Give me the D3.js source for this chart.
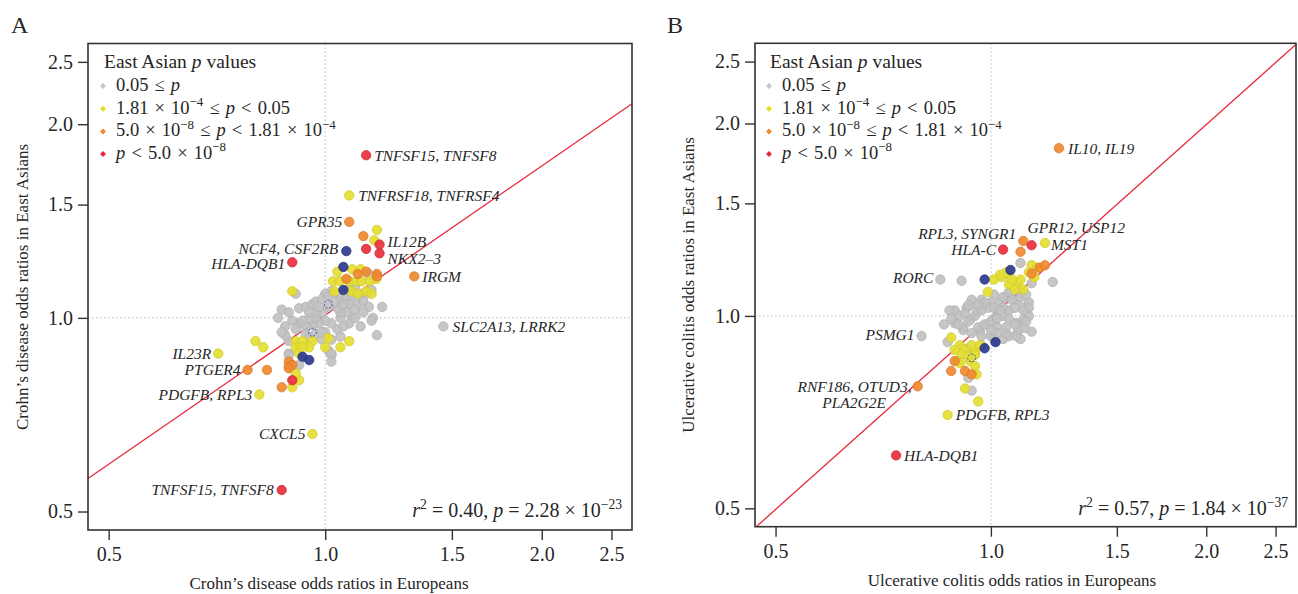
<!DOCTYPE html>
<html><head><meta charset="utf-8">
<script src="https://cdn.jsdelivr.net/npm/d3@7"></script>
<style>
body{margin:0;background:#fff}
svg{display:block}
text{font-family:"Liberation Serif","DejaVu Serif",serif;fill:#262626}
</style>
</head><body>
<svg id="c" width="1298" height="594"></svg>
<script>
// ---------------- DATA ----------------
const tickValues = [0.5, 1.0, 1.5, 2.0, 2.5];
const axisDomain = [0.468, 2.67];
const categoryOrder = ["g", "y", "o", "r", "b", "bd"];

// Panel A: Crohn's disease  [European OR, East Asian OR, category]
const labeledA = [
  [1.14, 1.79, "r", "TNFSF15, TNFSF8"],
  [1.08, 1.55, "y", "TNFRSF18, TNFRSF4"],
  [1.08, 1.41, "o", "GPR35"],
  [1.07, 1.27, "b", "NCF4, CSF2RB"],
  [0.90, 1.22, "r", "HLA-DQB1"],
  [1.19, 1.30, "r", "IL12B"],
  [1.19, 1.26, "r", "NKX2\u20133"],
  [1.33, 1.16, "o", "IRGM"],
  [1.46, 0.97, "g", "SLC2A13, LRRK2"],
  [0.71, 0.88, "y", "IL23R"],
  [0.78, 0.83, "o", "PTGER4"],
  [0.81, 0.76, "y", "PDGFB, RPL3"],
  [0.96, 0.66, "y", "CXCL5"],
  [0.87, 0.54, "r", "TNFSF15, TNFSF8"]
];
const grayA = [
  [1.15,1.17],[0.91,1.09],[1.02,1.10],[1.00,1.09],[0.87,1.03],[0.89,1.02],[0.92,1.035],[0.94,1.04],[0.96,1.05],[0.97,1.06],
  [0.99,1.07],[1.01,1.08],[1.04,1.09],[1.05,1.07],[1.07,1.07],[1.09,1.08],[1.12,1.09],[1.14,1.09],[1.16,1.105],[1.08,1.05],
  [1.11,1.05],[1.13,1.06],[1.15,1.04],[1.20,1.04],[1.165,1.00],[1.16,0.99],[1.12,0.97],[1.18,0.94],[1.09,1.00],[1.07,1.02],
  [1.05,1.00],[1.02,0.98],[1.00,0.99],[0.98,0.98],[0.96,0.975],[0.94,0.97],[0.92,0.98],[0.90,0.99],[0.88,0.97],[0.91,0.96],
  [0.94,0.945],[0.97,0.945],[1.00,0.95],[1.04,0.96],[1.05,0.935],[0.99,0.925],[1.02,0.925],[1.01,0.89],[1.02,0.875],[0.95,0.93],
  [0.92,0.90],[0.89,0.92],[0.88,0.94],[0.86,1.00],[0.87,0.95],[1.05,1.02],[0.99,1.02],[0.97,1.00],[1.01,1.04],[1.04,1.035],
  [1.02,0.88],[1.02,0.855],[0.89,0.88],[0.92,0.845],[0.89,0.875],[1.03,1.06],[1.06,1.05],[1.10,1.03],[1.13,1.02],[0.95,1.00],
  [0.93,0.99],[0.99,0.95],[1.08,0.98],[1.10,1.00],[0.97,1.02],[1.06,0.97],[1.10,1.12],[1.08,1.11],[0.98,1.04],[0.95,1.02]
];
const yellowA = [
  [1.18,1.37],[1.17,1.32],[1.04,1.18],[1.09,1.19],[1.12,1.19],[1.025,1.14],[1.047,1.14],[1.081,1.14],[1.105,1.14],[1.123,1.14],
  [1.153,1.14],[1.178,1.15],[1.03,1.10],[1.087,1.10],[1.11,1.09],[1.14,1.10],[1.16,1.09],[0.90,1.10],
  [0.80,0.92],[0.82,0.90],[0.91,0.92],[0.93,0.92],[0.96,0.92],[0.95,0.90],[0.91,0.90],[0.92,0.88],[1.01,0.93],[1.00,0.90],
  [1.05,0.90],[1.08,0.92],[0.93,0.90],[0.92,0.80],[0.90,0.78],[0.91,0.82]
];
const orangeA = [[1.13,1.34],[1.11,1.17],[1.14,1.18],[1.18,1.17],[1.18,1.16],[1.07,1.15],[0.89,0.855],[0.89,0.84],[0.90,0.845],[0.83,0.83],[0.87,0.78],[0.89,0.835]];
const redA = [[1.14,1.28],[0.90,0.80]];
const blueA = [[1.06,1.20],[1.06,1.105],[0.93,0.87],[0.95,0.86]];
const blueOpenA = [[1.01,1.05],[0.96,0.95]];
const fitA = {slope: 0.77, intercept: 0.01};            // ln(EAS) = intercept + slope * ln(EUR)
const statA = {r2: "0.40", p: "2.28", exp: "\u221223"};

// Panel B: Ulcerative colitis
const labeledB = [
  [1.245, 1.83, "o", "IL10, IL19"],
  [1.11, 1.31, "o", "RPL3, SYNGR1"],
  [1.14, 1.29, "r", "GPR12, USP12"],
  [1.19, 1.30, "y", "MST1"],
  [1.04, 1.27, "r", "HLA-C"],
  [0.85, 1.14, "g", "RORC"],
  [0.80, 0.93, "g", "PSMG1"],
  [0.79, 0.776, "o", "RNF186, OTUD3,|PLA2G2E"],
  [0.87, 0.70, "y", "PDGFB, RPL3"],
  [0.737, 0.605, "r", "HLA-DQB1"]
];
const grayB = [
  [0.91,1.135],[1.10,1.21],[1.22,1.13],[1.14,1.125],[1.01,1.08],[1.14,0.945],[0.87,0.91],[0.93,0.80],[0.94,0.764],
  [0.89,1.02],[0.86,0.97],[0.915,0.95],[1.00,1.05],[1.03,1.05],[1.13,1.05],[1.13,1.00],[1.09,0.945],[1.10,0.92],[1.06,0.93],[1.04,0.92],
  [0.875,1.02],[0.89,0.974],[0.925,1.03],[0.97,1.06],[1.05,1.07],[1.09,1.06],[1.11,1.03],[1.13,1.03],[1.085,0.93],[1.05,0.94],
  [1.02,0.96],[0.99,0.97],[0.95,1.00],[0.935,0.986],[0.915,0.96],[0.905,1.00],[0.965,0.945],[1.00,0.93],[1.01,0.99],[1.04,1.00],
  [1.06,1.02],[1.085,0.975],[1.04,1.03],[1.02,1.02],[0.99,1.03],[0.955,1.02],[0.94,1.06],[1.11,0.985],[1.115,0.957],[1.02,0.94],
  [0.97,1.02],[1.01,1.03],[1.03,1.02],[1.07,1.06],[1.08,1.03],[1.10,1.07],[1.12,1.08],[0.93,0.98],[0.96,0.96],[0.98,0.97],
  [1.00,0.98],[1.02,0.99],[1.06,0.99],[1.08,0.97],[0.92,1.01],[0.94,0.94],[0.97,0.93],[1.00,0.95],[1.05,0.96],[0.90,0.97],
  [0.98,1.05],[1.04,1.07],[1.06,1.09],[1.09,1.10],[0.96,1.04],[1.11,1.02],[1.12,0.98],[0.93,1.04],[0.88,0.99],[1.01,0.92],
  [0.97,0.90],[0.95,0.87],[0.93,0.89]
];
const yellowB = [
  [1.01,1.14],[1.035,1.15],[1.06,1.16],[1.14,1.20],[1.16,1.19],[1.13,1.17],[1.15,1.15],[1.06,1.12],[1.09,1.125],[1.11,1.10],
  [1.10,1.14],[1.07,1.14],[1.08,1.10],[1.05,1.17],[1.03,1.16],[0.99,1.09],
  [0.88,0.925],[0.905,0.90],[0.92,0.885],[0.94,0.90],[0.91,0.87],[0.935,0.85],[0.95,0.88],[0.90,0.85],[0.95,0.835],[0.93,0.864],
  [0.95,0.87],[0.905,0.844],[0.89,0.885],[0.965,0.90],[0.955,0.81],[0.92,0.77],[0.96,0.735]
];
const orangeB = [[1.10,1.26],[1.17,1.19],[1.14,1.165],[1.19,1.20],[0.89,0.85],[0.88,0.82],[0.92,0.82],[0.94,0.81]];
const redB = [];
const blueB = [[0.98,1.14],[1.065,1.18],[0.98,0.89],[1.015,0.91]];
const blueOpenB = [[0.94,0.86]];
const fitB = {slope: 1.0, intercept: -0.004};
const statB = {r2: "0.57", p: "1.84", exp: "\u221237"};

const legendTitle = [["East Asian ", ""], ["p", "i"], [" values", ""]];
const legendItems = [
  {cat: "g", segs: [["0.05 \u2264 ", ""], ["p", "i"]]},
  {cat: "y", segs: [["1.81 \u00d7 10", ""], ["\u22124", "s"], [" \u2264 ", ""], ["p", "i"], [" < 0.05", ""]]},
  {cat: "o", segs: [["5.0 \u00d7 10", ""], ["\u22128", "s"], [" \u2264 ", ""], ["p", "i"], [" < 1.81 \u00d7 10", ""], ["\u22124", "s"]]},
  {cat: "r", segs: [["p", "i"], [" < 5.0 \u00d7 10", ""], ["\u22128", "s"]]}
];

// ---------------- STYLE / LAYOUT ----------------
const fills = {g: "#c2c2c2", y: "#e4de33", o: "#ef8a30", r: "#e8323e", b: "#2e3b8f", bd: "none"};
const legendFills = {g: "#c8c8c8", y: "#e6df20", o: "#f08a2a", r: "#e8283a"};

const panels = [
  {
    letter: "A", box: {x0: 88, x1: 632, y0: 43.5, y1: 530},
    letterPos: [11, 33], legendPos: [104, 68], statPos: [622, 517],
    xTitle: "Crohn\u2019s disease odds ratios in Europeans", xTitlePos: [329, 589],
    yTitle: "Crohn\u2019s disease odds ratios in East Asians", yTitlePos: [28, 287],
    labeled: labeledA, gray: grayA, yellow: yellowA, orange: orangeA, red: redA, blue: blueA, blueOpen: blueOpenA,
    fit: fitA, stat: statA,
    labelStyle: [[8,0,"start"],[9,0,"start"],[-7,0,"end"],[-8,-3,"end"],[-7,1,"end"],[8,-3,"start"],[8,5,"start"],[8,0,"start"],[9,0,"start"],[-7,0,"end"],[-7,0,"end"],[-7,0,"end"],[-7,0,"end"],[-8,0,"end"]]
  },
  {
    letter: "B", box: {x0: 755, x1: 1296, y0: 43.3, y1: 526.7},
    letterPos: [667, 33], legendPos: [770, 68], statPos: [1288, 515],
    xTitle: "Ulcerative colitis odds ratios in Europeans", xTitlePos: [1012, 586],
    yTitle: "Ulcerative colitis odds ratios in East Asians", yTitlePos: [694, 285],
    labeled: labeledB, gray: grayB, yellow: yellowB, orange: orangeB, red: redB, blue: blueB, blueOpen: blueOpenB,
    fit: fitB, stat: statB,
    labelStyle: [[9,0,"start"],[-7,-7,"end"],[-4,-18,"start"],[6,1,"start"],[-7,0,"end"],[-7,-2,"end"],[-7,-1,"end"],[-6,0,"end"],[8,0,"start"],[8,0,"start"]]
  }
];

const svg = d3.select("#c");

function addRich(sel, segs, fs, supScale) {
  const sc = supScale || 0.68;
  let prevSup = false;
  segs.forEach(([t, st]) => {
    const sup = st.includes("s");
    const ts = sel.append("tspan").text(t);
    if (st.includes("i")) ts.attr("font-style", "italic");
    if (sup && !prevSup) ts.attr("dy", -fs * 0.42);
    if (!sup && prevSup) ts.attr("dy", fs * 0.42);
    if (sup) ts.attr("font-size", fs * sc);
    prevSup = sup;
  });
}

panels.forEach((P, idx) => {
  const g = svg.append("g");
  const B = P.box;
  const x = d3.scaleLog().domain(axisDomain).range([B.x0, B.x1]);
  const y = d3.scaleLog().domain(axisDomain).range([B.y1, B.y0]);

  const clipId = "clip" + idx;
  g.append("clipPath").attr("id", clipId).append("rect")
    .attr("x", B.x0).attr("y", B.y0).attr("width", B.x1 - B.x0).attr("height", B.y1 - B.y0);
  const plot = g.append("g").attr("clip-path", `url(#${clipId})`);

  // reference dotted lines at OR = 1
  plot.append("line").attr("x1", x(1)).attr("x2", x(1)).attr("y1", B.y0).attr("y2", B.y1)
    .attr("stroke", "#c4c4c4").attr("stroke-width", 1.2).attr("stroke-dasharray", "1.5,2.5");
  plot.append("line").attr("y1", y(1)).attr("y2", y(1)).attr("x1", B.x0).attr("x2", B.x1)
    .attr("stroke", "#c4c4c4").attr("stroke-width", 1.2).attr("stroke-dasharray", "1.5,2.5");

  // regression line
  const fx = d => Math.exp(P.fit.intercept + P.fit.slope * Math.log(d));
  const xs = [axisDomain[0] * 0.8, axisDomain[1] * 1.25];
  plot.append("line")
    .attr("x1", x(xs[0])).attr("y1", y(fx(xs[0])))
    .attr("x2", x(xs[1])).attr("y2", y(fx(xs[1])))
    .attr("stroke", "#e8283a").attr("stroke-width", 1.3);

  // points
  const pts = [];
  P.gray.forEach(d => pts.push({x: d[0], y: d[1], c: "g"}));
  P.yellow.forEach(d => pts.push({x: d[0], y: d[1], c: "y"}));
  P.orange.forEach(d => pts.push({x: d[0], y: d[1], c: "o"}));
  P.red.forEach(d => pts.push({x: d[0], y: d[1], c: "r"}));
  P.blue.forEach(d => pts.push({x: d[0], y: d[1], c: "b"}));
  P.labeled.forEach(d => pts.push({x: d[0], y: d[1], c: d[2]}));
  P.blueOpen.forEach(d => pts.push({x: d[0], y: d[1], c: "bd"}));
  pts.sort((a, b) => categoryOrder.indexOf(a.c) - categoryOrder.indexOf(b.c));

  plot.selectAll("circle.pt").data(pts).join("circle")
    .attr("class", "pt")
    .attr("cx", d => x(d.x)).attr("cy", d => y(d.y))
    .attr("r", d => d.c === "bd" ? 4 : 4.7)
    .attr("fill", d => fills[d.c])
    .attr("fill-opacity", 0.93)
    .attr("stroke", d => d.c === "bd" ? "#4050a8" : d3.color(fills[d.c]).darker(0.25))
    .attr("stroke-width", d => d.c === "bd" ? 1 : 0.8)
    .attr("stroke-dasharray", d => d.c === "bd" ? "2,1.5" : null);

  // gene labels
  P.labeled.forEach((d, i) => {
    const [dx, dy, anchor] = P.labelStyle[i];
    const lines = d[3].split("|");
    const t = g.append("text")
      .attr("x", x(d[0]) + dx).attr("y", y(d[1]) + dy).attr("dy", "0.35em")
      .attr("text-anchor", anchor).attr("font-style", "italic").attr("font-size", 15.5)
      .attr("fill", "#333").text(lines[0]);
    if (lines.length > 1) {
      const bb = t.node().getBBox();
      g.append("text")
        .attr("x", bb.x + bb.width / 2).attr("y", y(d[1]) + dy + 16).attr("dy", "0.35em")
        .attr("text-anchor", "middle").attr("font-style", "italic").attr("font-size", 15.5)
        .attr("fill", "#333").text(lines[1]);
    }
  });

  // box
  g.append("rect").attr("x", B.x0).attr("y", B.y0).attr("width", B.x1 - B.x0).attr("height", B.y1 - B.y0)
    .attr("fill", "none").attr("stroke", "#333").attr("stroke-width", 1.6);

  // axes
  const fmt = d3.format(".1f");
  const ax = g.append("g").attr("transform", `translate(0,${B.y1})`)
    .call(d3.axisBottom(x).tickValues(tickValues).tickFormat(fmt).tickSize(10).tickPadding(7));
  const ay = g.append("g").attr("transform", `translate(${B.x0},0)`)
    .call(d3.axisLeft(y).tickValues(tickValues).tickFormat(fmt).tickSize(10).tickPadding(5));
  [ax, ay].forEach(a => {
    a.select(".domain").remove();
    a.selectAll("line").attr("stroke", "#333").attr("stroke-width", 1.4);
    a.selectAll("text").attr("font-size", 20).attr("fill", "#262626")
      .attr("font-family", '"Liberation Serif","DejaVu Serif",serif');
  });

  // titles
  g.append("text").attr("x", P.xTitlePos[0]).attr("y", P.xTitlePos[1])
    .attr("text-anchor", "middle").attr("font-size", 17).text(P.xTitle);
  g.append("text").attr("transform", `translate(${P.yTitlePos[0]},${P.yTitlePos[1]}) rotate(-90)`)
    .attr("text-anchor", "middle").attr("font-size", 17).text(P.yTitle);
  g.append("text").attr("x", P.letterPos[0]).attr("y", P.letterPos[1])
    .attr("font-size", 24).text(P.letter);

  // legend
  const [lx, ly] = P.legendPos;
  addRich(g.append("text").attr("x", lx).attr("y", ly).attr("font-size", 19.5), legendTitle, 19.5);
  legendItems.forEach((it, i) => {
    const by = ly + 23 + i * 22.7;
    g.append("path").attr("d", d3.symbol().type(d3.symbolSquare).size(18)())
      .attr("transform", `translate(${lx - 1},${by - 5}) rotate(45)`).attr("fill", legendFills[it.cat]);
    addRich(g.append("text").attr("x", lx + 12).attr("y", by).attr("font-size", 18.5)
      .attr("word-spacing", 1.5), it.segs, 18.5, 0.7);
  });

  // stat
  addRich(g.append("text").attr("x", P.statPos[0]).attr("y", P.statPos[1]).attr("text-anchor", "end").attr("font-size", 20),
    [["r", "i"], ["2", "s"], [" = " + P.stat.r2 + ", ", ""], ["p", "i"], [" = " + P.stat.p + " \u00d7 10", ""], [P.stat.exp, "s"]], 20);
});
</script>
</body></html>
